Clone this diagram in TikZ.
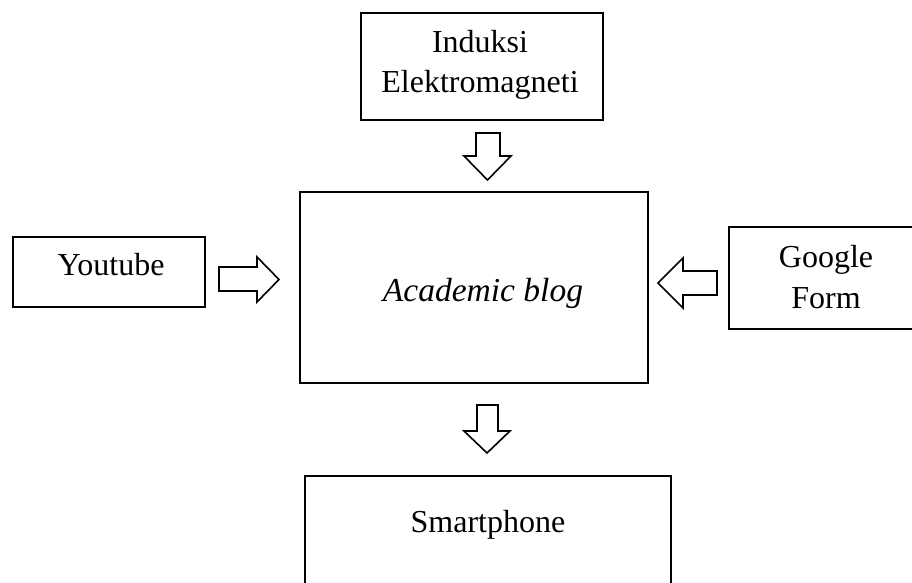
\documentclass[tikz,border=0pt]{standalone}
\usepackage{fontspec}
\setmainfont{Liberation Serif}
\begin{document}
\begin{tikzpicture}[x=0.5pt,y=-0.5pt,
  box/.style={draw=black, line width=1pt, rectangle, inner sep=0pt},
  txt/.style={anchor=base, inner sep=0pt, font=\fontsize{16}{20}\selectfont},
  blockarrow/.style={draw=black, fill=white, line width=0.8pt, line join=miter}]
\useasboundingbox (0,0) rectangle (912,583);
\clip (0,0) rectangle (912,583);
% boxes
\node[box, minimum width=121pt, minimum height=53.5pt] (top) at (482,66.5) {};
\node[box, minimum width=174pt, minimum height=95.5pt] (main) at (474,287.5) {};
\node[box, minimum width=96pt, minimum height=35pt] (yt) at (109,272) {};
\node[box, minimum width=97pt, minimum height=51pt] (gf) at (826,278) {};
\node[box, minimum width=183pt, minimum height=62pt] (sp) at (488,538) {};
% texts
\node[txt] (t1) at (480,53) {Induksi};
\node[txt] (t2) at (480,93) {Elektromagneti};
\node[txt, font=\fontsize{16.75}{20}\selectfont\itshape] (t3) at (483,302) {Academic blog};
\node[txt] (t4) at (111,276) {Youtube};
\node[txt] (t5) at (826,268) {Google};
\node[txt] (t6) at (826,308) {Form};
\node[txt] (t7) at (488,532) {Smartphone};
% block arrows
\draw[blockarrow] (476,133) -- (500,133) -- (500,156) -- (511,156) -- (487.5,180)
  -- (464,156) -- (476,156) -- cycle;
\draw[blockarrow] (477,405) -- (498,405) -- (498,431) -- (510,431) -- (487,453)
  -- (464,431) -- (477,431) -- cycle;
\draw[blockarrow] (219,267) -- (257,267) -- (257,257) -- (279,279.5) -- (257,302)
  -- (257,291) -- (219,291) -- cycle;
\draw[blockarrow] (717,271) -- (683,271) -- (683,258) -- (658,283) -- (683,308)
  -- (683,295) -- (717,295) -- cycle;
\end{tikzpicture}
\end{document}
